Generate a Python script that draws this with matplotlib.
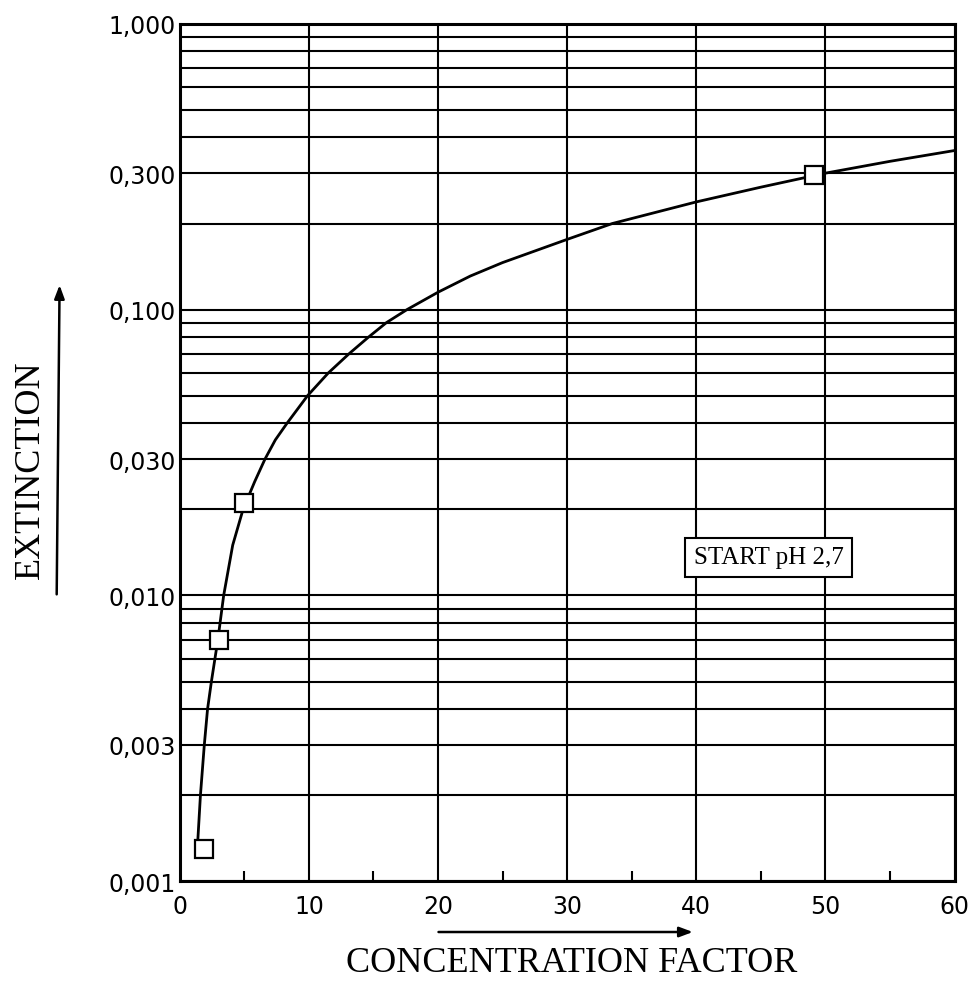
import matplotlib
matplotlib.use("Agg")
import matplotlib.pyplot as plt
from matplotlib.patches import FancyArrowPatch
from matplotlib.ticker import LogLocator, NullFormatter, FixedLocator

# Measured points (open squares)
point_x = [1.9, 3.0, 5.0, 49.1]
point_y = [0.0013, 0.0070, 0.021, 0.295]

# Fitted curve
curve_x = [1.4, 1.6, 1.9, 2.15, 2.45, 2.95, 3.4, 4.1, 4.9, 5.8, 6.6, 7.4, 8.3,
           9.9, 11.5, 13.1, 14.6, 16.0, 17.6, 20, 22.5, 25, 30, 33.5, 40, 45,
           50, 55, 60]
curve_y = [0.0014, 0.002, 0.003, 0.004, 0.005, 0.007, 0.010, 0.015, 0.020,
           0.025, 0.030, 0.035, 0.040, 0.050, 0.060, 0.070, 0.080, 0.090,
           0.100, 0.115, 0.131, 0.146, 0.176, 0.200, 0.238, 0.268, 0.300,
           0.330, 0.360]

x_ticks = [0, 10, 20, 30, 40, 50, 60]
x_minor = [5, 15, 25, 35, 45, 55]
y_ticks = [0.001, 0.003, 0.01, 0.03, 0.1, 0.3, 1.0]
y_labels = ["0,001", "0,003", "0,010", "0,030", "0,100", "0,300", "1,000"]

fig = plt.figure(figsize=(9.77, 9.87), dpi=100)
ax = fig.add_axes([0.184, 0.106, 0.793, 0.869])

ax.set_yscale("log")
ax.set_xlim(0, 60)
ax.set_ylim(0.001, 1.0)

# grid: verticals every 10, horizontals at every log step
ax.set_xticks(x_ticks)
ax.set_xticklabels([str(v) for v in x_ticks], fontsize=17, family="DejaVu Sans")
ax.xaxis.set_minor_locator(FixedLocator(x_minor))
ax.set_yticks(y_ticks)
ax.set_yticklabels(y_labels, fontsize=17, family="DejaVu Sans")
ax.yaxis.set_minor_locator(LogLocator(base=10, subs=range(1, 10)))
ax.yaxis.set_minor_formatter(NullFormatter())

ax.grid(True, which="major", axis="x", color="black", lw=1.5)
ax.grid(True, which="both", axis="y", color="black", lw=1.5)
ax.tick_params(axis="x", which="major", length=0, pad=9)
ax.tick_params(axis="x", which="minor", length=7, width=1.5, direction="in")
ax.tick_params(axis="y", which="both", length=0, pad=3)
for s in ax.spines.values():
    s.set_linewidth(2.2)

# curve and points
ax.plot(curve_x, curve_y, color="black", lw=2, zorder=3)
ax.plot(point_x, point_y, ls="none", marker="s", ms=13, mfc="white",
        mec="black", mew=1.6, zorder=4)

ax.text(45.6, 0.0136, "START pH 2,7", fontsize=18, family="Liberation Serif",
        va="center", ha="center", zorder=5,
        bbox=dict(boxstyle="square,pad=0.35", fc="white", ec="black", lw=1.5))

# axis labels with arrows
fig.text(0.585, 0.024, "CONCENTRATION FACTOR", fontsize=26,
         family="Liberation Serif", ha="center", va="center")
fig.text(0.031, 0.524, "EXTINCTION", fontsize=26, family="Liberation Serif",
         ha="center", va="center", rotation=90)
fig.patches.append(FancyArrowPatch(
    (0.446, 0.0547), (0.712, 0.0547), transform=fig.transFigure,
    arrowstyle="-|>,head_length=8,head_width=3", color="black", lw=1.8))
fig.patches.append(FancyArrowPatch(
    (0.058, 0.394), (0.061, 0.713), transform=fig.transFigure,
    arrowstyle="-|>,head_length=8,head_width=3", color="black", lw=1.8))

fig.savefig("out.png", dpi=100)
